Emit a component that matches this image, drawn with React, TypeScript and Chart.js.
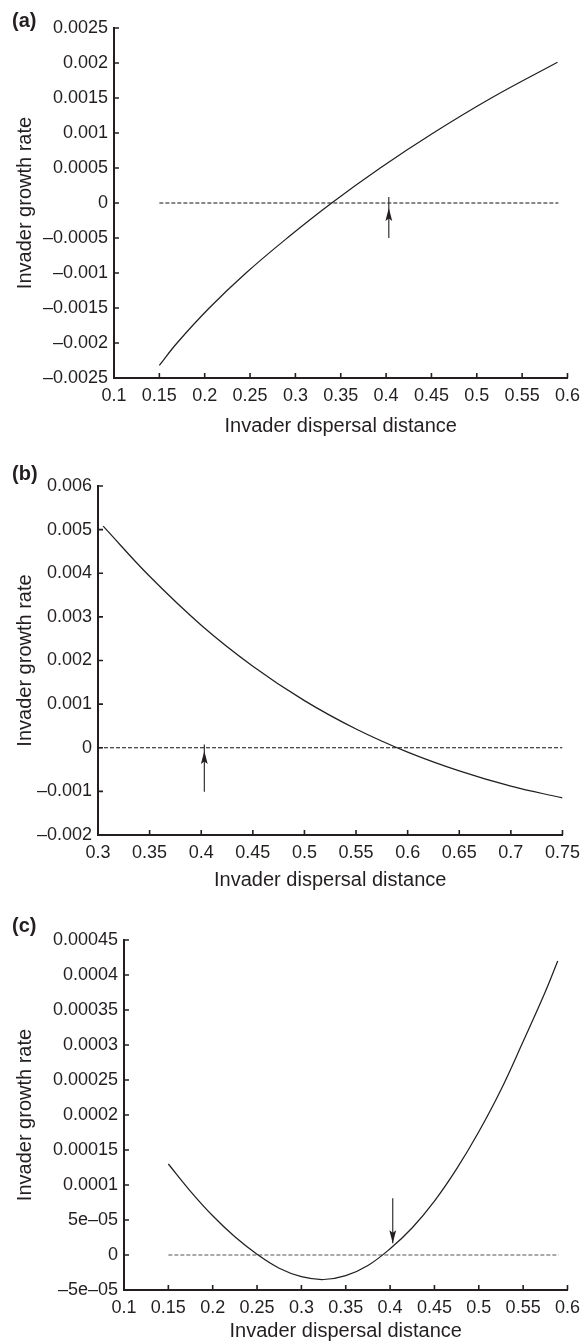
import React, { useEffect, useRef } from "react";
import { Chart, registerables } from "chart.js";

Chart.register(...registerables);

const FONT = "'Liberation Sans', Arial, Helvetica, sans-serif";
const INK = "#231f20";

// ---------- Panel (a) ----------
const curveAX = [0.15, 0.1695, 0.205, 0.2455, 0.291, 0.34, 0.3935, 0.452, 0.516, 0.589];
const curveAY = [-0.00232, -0.002, -0.0015, -0.001, -0.0005, 0, 0.0005, 0.001, 0.0015, 0.00201];
const zeroLineAX = [0.15, 0.59];
const arrowA = [0.403, -0.0005, 0.000085, -0.00007]; // x, tail, shaft end, head tip
const xTicksA = [0.1, 0.15, 0.2, 0.25, 0.3, 0.35, 0.4, 0.45, 0.5, 0.55, 0.6];
const xLabelsA = ["0.1", "0.15", "0.2", "0.25", "0.3", "0.35", "0.4", "0.45", "0.5", "0.55", "0.6"];
const yTicksA = [-0.0025, -0.002, -0.0015, -0.001, -0.0005, 0, 0.0005, 0.001, 0.0015, 0.002, 0.0025];
const yLabelsA = ["–0.0025", "–0.002", "–0.0015", "–0.001", "–0.0005", "0", "0.0005", "0.001", "0.0015", "0.002", "0.0025"];

// ---------- Panel (b) ----------
const curveBX = [0.305, 0.35, 0.4, 0.45, 0.5, 0.55, 0.6, 0.65, 0.7, 0.75];
const curveBY = [0.00508, 0.00393, 0.00281, 0.00187, 0.00108, 0.00043, -0.0001, -0.00053, -0.00088, -0.00115];
const zeroLineBX = [0.3, 0.75];
const arrowB = [0.403, -0.00101, 0.000076, -0.000076];
const xTicksB = [0.3, 0.35, 0.4, 0.45, 0.5, 0.55, 0.6, 0.65, 0.7, 0.75];
const xLabelsB = ["0.3", "0.35", "0.4", "0.45", "0.5", "0.55", "0.6", "0.65", "0.7", "0.75"];
const yTicksB = [-0.002, -0.001, 0, 0.001, 0.002, 0.003, 0.004, 0.005, 0.006];
const yLabelsB = ["–0.002", "–0.001", "0", "0.001", "0.002", "0.003", "0.004", "0.005", "0.006"];

// ---------- Panel (c) ----------
const curveCX = [0.15, 0.175, 0.2, 0.225, 0.25, 0.275, 0.3, 0.325, 0.35, 0.375, 0.4, 0.425, 0.45, 0.475, 0.5, 0.525, 0.55, 0.575, 0.589];
const curveCY = [0.00013, 0.000091, 0.000056, 0.000026, 0.000001, -0.000019, -0.000031, -0.000035, -0.0000295, -0.000015, 0.000009, 0.000039, 0.000077, 0.000123, 0.000176, 0.000236, 0.000305, 0.000376, 0.00042];
const zeroLineCX = [0.15, 0.59];
const arrowC = [0.403, 0.000081, 0.0000167, 0.0000167];
const xTicksC = [0.1, 0.15, 0.2, 0.25, 0.3, 0.35, 0.4, 0.45, 0.5, 0.55, 0.6];
const xLabelsC = ["0.1", "0.15", "0.2", "0.25", "0.3", "0.35", "0.4", "0.45", "0.5", "0.55", "0.6"];
const yTicksC = [-0.00005, 0, 0.00005, 0.0001, 0.00015, 0.0002, 0.00025, 0.0003, 0.00035, 0.0004, 0.00045];
const yLabelsC = ["–5e–05", "0", "5e–05", "0.0001", "0.00015", "0.0002", "0.00025", "0.0003", "0.00035", "0.0004", "0.00045"];

const X_TITLE = "Invader dispersal distance";
const Y_TITLE = "Invader growth rate";

const inwardTicks = {
  id: "inwardTicks",
  afterDraw(chart: any) {
    const { ctx, chartArea, scales } = chart;
    const xs = scales.x;
    const ys = scales.y;
    ctx.save();
    ctx.strokeStyle = INK;
    ctx.lineWidth = 1.6;
    ctx.beginPath();
    xs.ticks.forEach((t: any) => {
      const px = xs.getPixelForValue(t.value);
      ctx.moveTo(px, chartArea.bottom);
      ctx.lineTo(px, chartArea.bottom - 5);
    });
    ys.ticks.forEach((t: any) => {
      const py = ys.getPixelForValue(t.value);
      ctx.moveTo(chartArea.left, py);
      ctx.lineTo(chartArea.left + 5, py);
    });
    ctx.stroke();
    ctx.restore();
  },
};

function makeArrow(arrow: number[]) {
  return {
    id: "arrowMark",
    afterDatasetsDraw(chart: any) {
      const { ctx, scales } = chart;
      const [ax, tail, end, tip] = arrow;
      const px = scales.x.getPixelForValue(ax);
      const pTail = scales.y.getPixelForValue(tail);
      const pEnd = scales.y.getPixelForValue(end);
      const pTip = scales.y.getPixelForValue(tip);
      const dir = pTip < pTail ? -1 : 1; // -1 => pointing up
      ctx.save();
      ctx.strokeStyle = INK;
      ctx.fillStyle = INK;
      ctx.lineWidth = 1.1;
      ctx.beginPath();
      ctx.moveTo(px, pTail);
      ctx.lineTo(px, pEnd);
      ctx.stroke();
      const L = 13;
      const W = 3.4;
      ctx.beginPath();
      ctx.moveTo(px, pTip);
      ctx.lineTo(px - W, pTip - dir * L);
      ctx.lineTo(px, pTip - dir * (L - 2.5));
      ctx.lineTo(px + W, pTip - dir * L);
      ctx.closePath();
      ctx.fill();
      ctx.restore();
    },
  };
}

type PanelProps = {
  top: number;
  height: number;
  left: number;
  right: number;
  areaTop: number;
  areaBottom: number;
  titlePad: number;
  curveX: number[];
  curveY: number[];
  zeroX: number[];
  dashColor: string;
  arrow: number[];
  xTicks: number[];
  xLabels: string[];
  yTicks: number[];
  yLabels: string[];
};

function Panel(p: PanelProps) {
  const ref = useRef<HTMLCanvasElement>(null);
  useEffect(() => {
    const canvas = ref.current;
    if (!canvas) return;
    const W = 587;
    const xAxisH = p.height - p.areaBottom;
    const chart = new Chart(canvas, {
      type: "line",
      data: {
        datasets: [
          {
            data: p.curveX.map((x, i) => ({ x, y: p.curveY[i] })),
            borderColor: INK,
            borderWidth: 1.25,
            pointRadius: 0,
            tension: 0.4,
            fill: false,
          },
          {
            data: p.zeroX.map((x) => ({ x, y: 0 })),
            borderColor: p.dashColor,
            borderWidth: 1,
            borderDash: [4, 2],
            pointRadius: 0,
            fill: false,
          },
        ],
      },
      options: {
        animation: false,
        responsive: false,
        devicePixelRatio: 1,
        events: [],
        layout: { padding: { left: 0, top: p.areaTop, right: W - p.right, bottom: 0 } },
        plugins: { legend: { display: false }, tooltip: { enabled: false }, title: { display: false } },
        scales: {
          x: {
            type: "linear",
            min: p.xTicks[0],
            max: p.xTicks[p.xTicks.length - 1],
            afterBuildTicks: (s: any) => {
              s.ticks = p.xTicks.map((v) => ({ value: v }));
            },
            afterFit: (s: any) => {
              s.height = xAxisH;
            },
            grid: { display: false, drawTicks: false },
            border: { display: true, color: INK, width: 2 },
            ticks: {
              autoSkip: false,
              maxRotation: 0,
              minRotation: 0,
              padding: 7,
              color: INK,
              font: { family: FONT, size: 18 },
              callback: (_v: any, i: number) => p.xLabels[i],
            },
            title: {
              display: true,
              text: X_TITLE,
              color: INK,
              font: { family: FONT, size: 20 },
              padding: { top: 0, bottom: p.titlePad },
            },
          },
          y: {
            type: "linear",
            min: p.yTicks[0],
            max: p.yTicks[p.yTicks.length - 1],
            afterBuildTicks: (s: any) => {
              s.ticks = p.yTicks.map((v) => ({ value: v }));
            },
            afterFit: (s: any) => {
              s.width = p.left;
            },
            grid: { display: false, drawTicks: false },
            border: { display: true, color: INK, width: 2 },
            ticks: {
              autoSkip: false,
              padding: 6,
              color: INK,
              font: { family: FONT, size: 18 },
              callback: (_v: any, i: number) => p.yLabels[i],
            },
            title: {
              display: true,
              text: Y_TITLE,
              color: INK,
              font: { family: FONT, size: 20 },
              padding: { top: 13, bottom: 0 },
            },
          },
        },
      } as any,
      plugins: [inwardTicks, makeArrow(p.arrow)],
    });
    return () => chart.destroy();
  }, []);
  return (
    <canvas
      ref={ref}
      width={587}
      height={p.height}
      style={{ position: "absolute", left: 0, top: p.top, width: 587, height: p.height }}
    />
  );
}

const labelStyle = (top: number): React.CSSProperties => ({
  position: "absolute",
  left: 12,
  top,
  fontFamily: FONT,
  fontWeight: "bold",
  fontSize: 20,
  lineHeight: "20px",
  color: INK,
});

export default function App() {
  return (
    <div style={{ position: "absolute", left: 0, top: 0, width: 587, height: 1343, background: "#fff", overflow: "hidden" }}>
      <Panel
        top={0}
        height={445}
        left={114}
        right={570}
        areaTop={28}
        areaBottom={378}
        titlePad={7}
        curveX={curveAX}
        curveY={curveAY}
        zeroX={zeroLineAX}
        dashColor="#111"
        arrow={arrowA}
        xTicks={xTicksA}
        xLabels={xLabelsA}
        yTicks={yTicksA}
        yLabels={yLabelsA}
      />
      <Panel
        top={445}
        height={455}
        left={98}
        right={565}
        areaTop={41}
        areaBottom={390}
        titlePad={8}
        curveX={curveBX}
        curveY={curveBY}
        zeroX={zeroLineBX}
        dashColor="#111"
        arrow={arrowB}
        xTicks={xTicksB}
        xLabels={xLabelsB}
        yTicks={yTicksB}
        yLabels={yLabelsB}
      />
      <Panel
        top={900}
        height={443}
        left={124}
        right={570}
        areaTop={40}
        areaBottom={390}
        titlePad={0}
        curveX={curveCX}
        curveY={curveCY}
        zeroX={zeroLineCX}
        dashColor="#555"
        arrow={arrowC}
        xTicks={xTicksC}
        xLabels={xLabelsC}
        yTicks={yTicksC}
        yLabels={yLabelsC}
      />
      <div style={labelStyle(10)}>(a)</div>
      <div style={labelStyle(463)}>(b)</div>
      <div style={labelStyle(915)}>(c)</div>
    </div>
  );
}
